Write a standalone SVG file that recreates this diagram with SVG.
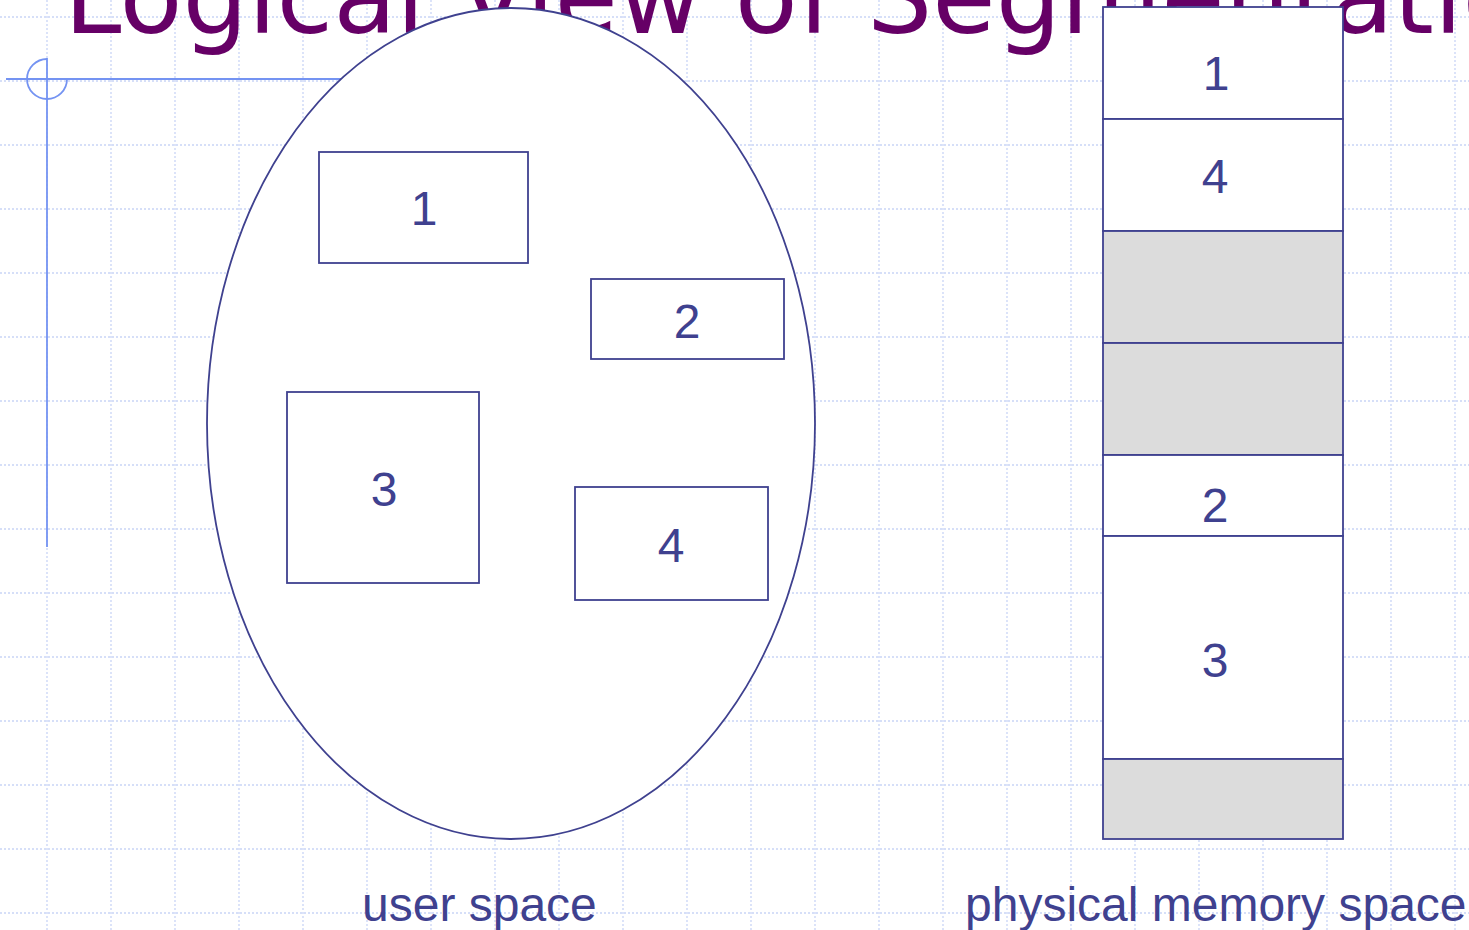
<svg xmlns="http://www.w3.org/2000/svg" width="1469" height="930" viewBox="0 0 1469 930">
<style>
.grid line{stroke:#c9d5f6;stroke-width:1.3;stroke-dasharray:2 2}
.cross{stroke:#7493f2;stroke-width:1.8;fill:none}
.shape{stroke:#3f418f;stroke-width:1.8;fill:#ffffff}
.free{stroke:#3f418f;stroke-width:1.8;fill:#dcdcdc}
.num{font-family:"Liberation Sans",Arial,sans-serif;font-size:48px;fill:#3f418f;text-anchor:middle}
.cap{font-family:"Liberation Sans",Arial,sans-serif;font-size:48px;fill:#3f418f}
.title{font-family:"DejaVu Sans",Verdana,sans-serif;font-size:103px;fill:#660066}
</style>
<rect width="1469" height="930" fill="#ffffff"/>
<g class="grid">
<line x1="0" y1="17" x2="1469" y2="17"/>
<line x1="0" y1="81" x2="1469" y2="81"/>
<line x1="0" y1="145" x2="1469" y2="145"/>
<line x1="0" y1="209" x2="1469" y2="209"/>
<line x1="0" y1="273" x2="1469" y2="273"/>
<line x1="0" y1="337" x2="1469" y2="337"/>
<line x1="0" y1="401" x2="1469" y2="401"/>
<line x1="0" y1="465" x2="1469" y2="465"/>
<line x1="0" y1="529" x2="1469" y2="529"/>
<line x1="0" y1="593" x2="1469" y2="593"/>
<line x1="0" y1="657" x2="1469" y2="657"/>
<line x1="0" y1="721" x2="1469" y2="721"/>
<line x1="0" y1="785" x2="1469" y2="785"/>
<line x1="0" y1="849" x2="1469" y2="849"/>
<line x1="0" y1="913" x2="1469" y2="913"/>
<line x1="47" y1="0" x2="47" y2="930"/>
<line x1="111" y1="0" x2="111" y2="930"/>
<line x1="175" y1="0" x2="175" y2="930"/>
<line x1="239" y1="0" x2="239" y2="930"/>
<line x1="303" y1="0" x2="303" y2="930"/>
<line x1="367" y1="0" x2="367" y2="930"/>
<line x1="431" y1="0" x2="431" y2="930"/>
<line x1="495" y1="0" x2="495" y2="930"/>
<line x1="559" y1="0" x2="559" y2="930"/>
<line x1="623" y1="0" x2="623" y2="930"/>
<line x1="687" y1="0" x2="687" y2="930"/>
<line x1="751" y1="0" x2="751" y2="930"/>
<line x1="815" y1="0" x2="815" y2="930"/>
<line x1="879" y1="0" x2="879" y2="930"/>
<line x1="943" y1="0" x2="943" y2="930"/>
<line x1="1007" y1="0" x2="1007" y2="930"/>
<line x1="1071" y1="0" x2="1071" y2="930"/>
<line x1="1135" y1="0" x2="1135" y2="930"/>
<line x1="1199" y1="0" x2="1199" y2="930"/>
<line x1="1263" y1="0" x2="1263" y2="930"/>
<line x1="1327" y1="0" x2="1327" y2="930"/>
<line x1="1391" y1="0" x2="1391" y2="930"/>
<line x1="1455" y1="0" x2="1455" y2="930"/>
</g>
<text class="title" x="64" y="33">Logical View of Segmentation</text>
<g id="crosshair">
<line class="cross" x1="6" y1="79" x2="400" y2="79"/>
<line class="cross" x1="47" y1="58" x2="47" y2="547"/>
<path class="cross" d="M47 59 A20 20 0 1 0 67 79"/>
</g>
<g id="user-space">
<ellipse class="shape" cx="511" cy="423.5" rx="304" ry="415.5"/>
</g>
<g id="logical-seg-1">
<rect class="shape" x="319" y="152" width="209" height="111"/>
<text class="num" x="424" y="225">1</text>
</g>
<g id="logical-seg-2">
<rect class="shape" x="591" y="279" width="193" height="80"/>
<text class="num" x="687" y="338">2</text>
</g>
<g id="logical-seg-3">
<rect class="shape" x="287" y="392" width="192" height="191"/>
<text class="num" x="384" y="506">3</text>
</g>
<g id="logical-seg-4">
<rect class="shape" x="575" y="487" width="193" height="113"/>
<text class="num" x="671" y="562">4</text>
</g>
<g id="phys-seg-1">
<rect class="shape" x="1103" y="7" width="240" height="112"/>
<text class="num" x="1216" y="90">1</text>
</g>
<g id="phys-seg-4">
<rect class="shape" x="1103" y="119" width="240" height="112"/>
<text class="num" x="1215" y="193">4</text>
</g>
<g id="phys-free-1">
<rect class="free" x="1103" y="231" width="240" height="112"/>
</g>
<g id="phys-free-2">
<rect class="free" x="1103" y="343" width="240" height="112"/>
</g>
<g id="phys-seg-2">
<rect class="shape" x="1103" y="455" width="240" height="81"/>
<text class="num" x="1215" y="522">2</text>
</g>
<g id="phys-seg-3">
<rect class="shape" x="1103" y="536" width="240" height="223"/>
<text class="num" x="1215" y="677">3</text>
</g>
<g id="phys-free-3">
<rect class="free" x="1103" y="759" width="240" height="80"/>
</g>
<g id="captions">
<text class="cap" x="362" y="921">user space</text>
<text class="cap" x="965" y="921">physical memory space</text>
</g>
<g id="connectors"/>
</svg>
